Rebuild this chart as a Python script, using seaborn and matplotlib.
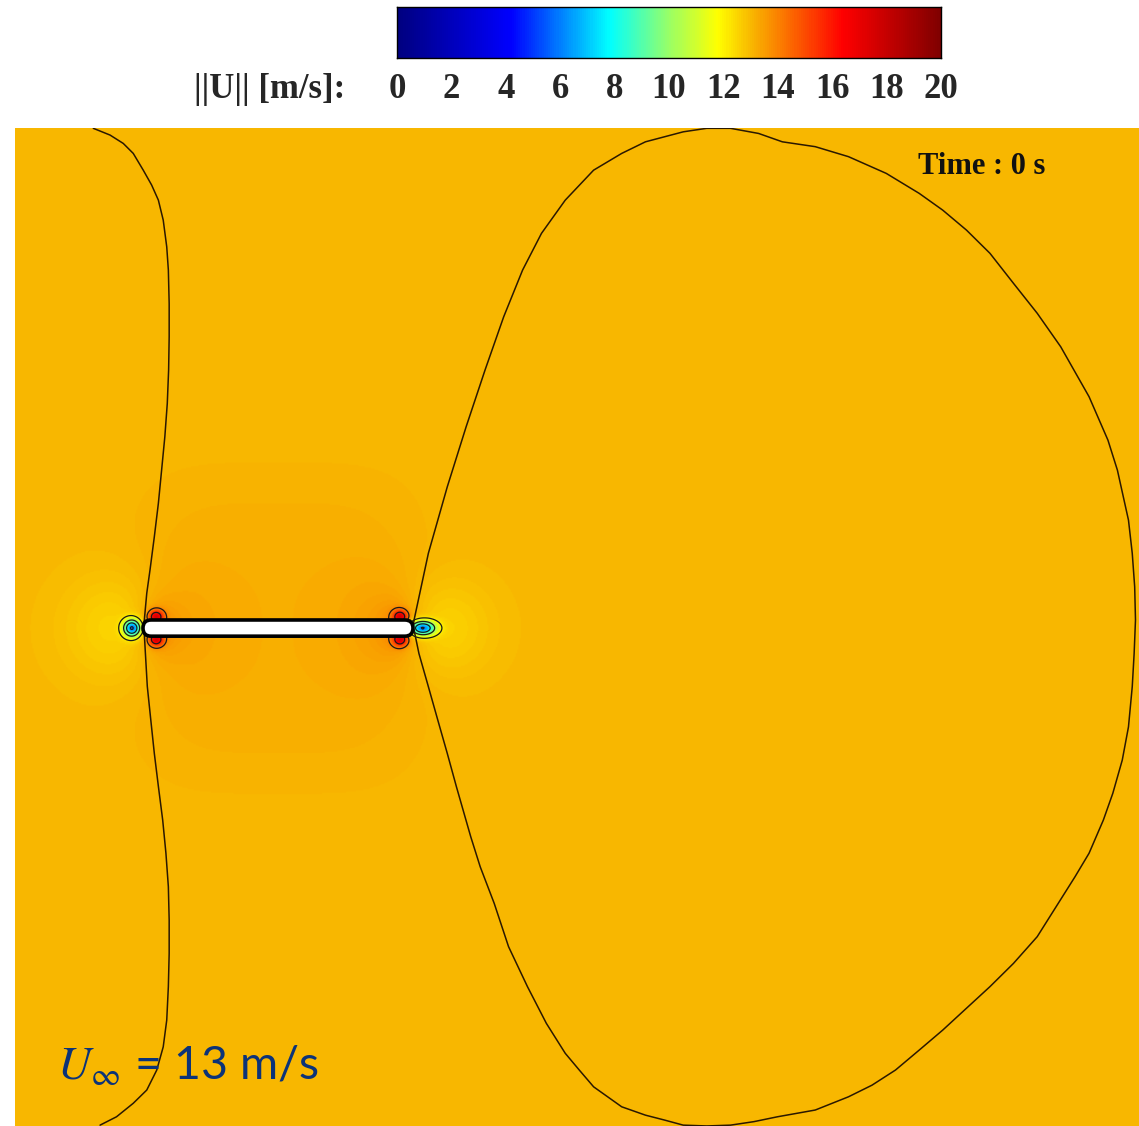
import numpy as np
import matplotlib
matplotlib.use("Agg")
import matplotlib.pyplot as plt
from matplotlib.colors import LinearSegmentedColormap
from matplotlib.patches import FancyBboxPatch
import seaborn as sns

# ---------------------------------------------------------------- data
U_INF = 13.0                      # free-stream speed [m/s]
CBAR_TICKS = [0, 2, 4, 6, 8, 10, 12, 14, 16, 18, 20]
CONTOUR_LEVELS = [6, 8, 10, 12, 14, 16]

# domain in plate-length units (plate spans x = 0 .. 1, y = 0)
X_RANGE = [-0.474, 3.689]
Y_RANGE = [-1.844, 1.852]
PLATE_X = [0.0, 1.0]
PLATE_HALF_THICK = 0.03

# local flow features: centre x, centre y, sigma x, sigma y, amplitude [m/s]
FEAT_CX = [-0.08, 1.10, 0.10, 0.90, 0.06, 0.94, -0.041, 1.035, 0.048, 0.048, 0.952, 0.952]
FEAT_CY = [0.00, 0.00, 0.00, 0.00, 0.00, 0.00, 0.000, 0.000, 0.042, -0.042, 0.042, -0.042]
FEAT_SX = [0.20, 0.18, 0.16, 0.16, 0.07, 0.07, 0.031, 0.046, 0.026, 0.026, 0.026, 0.026]
FEAT_SY = [0.19, 0.17, 0.19, 0.19, 0.10, 0.10, 0.031, 0.026, 0.024, 0.024, 0.024, 0.024]
FEAT_AMP = [-0.55, -0.50, 0.35, 0.35, 0.55, 0.55, -7.0, -7.0, 4.0, 4.0, 4.0, 4.0]

# broad region of slightly faster flow around the plate (super-Gaussian)
PLUME_C = [0.5, 0.0]
PLUME_S = [0.52, 0.56]
PLUME_AMP = 0.20

# free-stream iso-speed lines
LEFT_ISO_X = [-0.184, -0.122, -0.073, -0.036, 0.001, 0.032, 0.057, 0.075, 0.088,
              0.094, 0.097, 0.097, 0.095, 0.090, 0.081, 0.069, 0.057, 0.042,
              0.026, 0.014, 0.005, 0.0, 0.004, 0.009, 0.016, 0.029, 0.042, 0.057,
              0.073, 0.085, 0.094, 0.097, 0.097, 0.094, 0.088, 0.075, 0.051,
              0.014, -0.036, -0.098, -0.159]
LEFT_ISO_Y = [1.851, 1.826, 1.795, 1.758, 1.696, 1.641, 1.585, 1.511, 1.412,
              1.326, 1.202, 1.079, 0.956, 0.832, 0.709, 0.585, 0.462, 0.338,
              0.215, 0.129, 0.030, 0.0, -0.005, -0.094, -0.216, -0.341, -0.464,
              -0.586, -0.711, -0.834, -0.958, -1.081, -1.205, -1.328, -1.452,
              -1.551, -1.637, -1.711, -1.760, -1.810, -1.841]

RIGHT_ISO_X = [1.0, 1.004, 1.057, 1.127, 1.197, 1.267, 1.336, 1.406, 1.476, 1.564,
               1.669, 1.773, 1.861, 2.001, 2.088, 2.176, 2.280, 2.368, 2.490,
               2.613, 2.753, 2.875, 2.962, 3.050, 3.137, 3.224, 3.312, 3.399,
               3.504, 3.574, 3.609, 3.650, 3.664, 3.673, 3.676, 3.671, 3.664,
               3.650, 3.627, 3.592, 3.557, 3.504, 3.452, 3.382, 3.312, 3.224,
               3.137, 3.050, 2.962, 2.875, 2.787, 2.700, 2.613, 2.490, 2.350,
               2.263, 2.176, 2.088, 2.001, 1.931, 1.861, 1.773, 1.669, 1.616,
               1.564, 1.494, 1.424, 1.354, 1.301, 1.249, 1.214, 1.161, 1.127,
               1.092, 1.057, 1.022, 1.004, 1.0]
RIGHT_ISO_Y = [0.0, 0.030, 0.277, 0.523, 0.746, 0.956, 1.153, 1.326, 1.462, 1.585,
               1.696, 1.758, 1.801, 1.838, 1.851, 1.851, 1.832, 1.801, 1.783,
               1.746, 1.684, 1.610, 1.548, 1.474, 1.388, 1.277, 1.166, 1.042,
               0.857, 0.696, 0.585, 0.400, 0.277, 0.153, 0.030, -0.094, -0.217,
               -0.366, -0.489, -0.612, -0.711, -0.834, -0.921, -1.032, -1.143,
               -1.242, -1.328, -1.408, -1.489, -1.563, -1.637, -1.693, -1.736,
               -1.785, -1.810, -1.828, -1.841, -1.844, -1.841, -1.822, -1.804,
               -1.773, -1.699, -1.637, -1.575, -1.464, -1.328, -1.180, -1.020,
               -0.884, -0.773, -0.588, -0.464, -0.341, -0.217, -0.094, -0.007, 0.0]

# ---------------------------------------------------------------- style
sns.set_theme(style="white")
plt.rcParams["mathtext.fontset"] = "stix"

W, H = 1139, 1126
fig = plt.figure(figsize=(W / 100, H / 100), dpi=100)
fig.patch.set_facecolor("white")

speed_cmap = LinearSegmentedColormap.from_list(
    "speed",
    [(0.00, (0.0, 0.0, 0.5)),
     (0.21, (0.0, 0.0, 1.0)),
     (0.39, (0.0, 1.0, 1.0)),
     (0.50, (0.6, 1.0, 0.4)),
     (0.59, (1.0, 1.0, 0.0)),
     (0.65, (0.975, 0.725, 0.0)),
     (0.82, (1.0, 0.0, 0.0)),
     (1.00, (0.5, 0.0, 0.0))])

# ---------------------------------------------------------------- field
nx, ny = 900, 800
xs = np.linspace(X_RANGE[0], X_RANGE[1], nx)
ys = np.linspace(Y_RANGE[0], Y_RANGE[1], ny)
X, Y = np.meshgrid(xs, ys)

Z = np.full_like(X, U_INF)
Z += PLUME_AMP * np.exp(-(((X - PLUME_C[0]) / PLUME_S[0]) ** 4
                          + ((Y - PLUME_C[1]) / PLUME_S[1]) ** 4))
for cx, cy, sx, sy, a in zip(FEAT_CX, FEAT_CY, FEAT_SX, FEAT_SY, FEAT_AMP):
    Z += a * np.exp(-(((X - cx) / sx) ** 2 + ((Y - cy) / sy) ** 2))

ax = fig.add_axes([15 / W, 0.0, (W - 15) / W, (H - 128) / H])
ax.imshow(Z, origin="lower", extent=[*X_RANGE, *Y_RANGE], cmap=speed_cmap,
          vmin=CBAR_TICKS[0], vmax=CBAR_TICKS[-1], interpolation="bilinear",
          aspect="equal")
ax.contour(X, Y, Z, levels=CONTOUR_LEVELS, colors="#1a1a1a", linewidths=0.9)
ax.plot(LEFT_ISO_X, LEFT_ISO_Y, color="#2a1800", lw=1.1)
ax.plot(RIGHT_ISO_X, RIGHT_ISO_Y, color="#2a1800", lw=1.1)

plate = FancyBboxPatch((PLATE_X[0], -PLATE_HALF_THICK),
                       PLATE_X[1] - PLATE_X[0], 2 * PLATE_HALF_THICK,
                       boxstyle=f"round,pad=0,rounding_size={PLATE_HALF_THICK}",
                       facecolor="white", edgecolor="black", lw=2.6, zorder=5)
ax.add_patch(plate)
ax.set_xlim(*X_RANGE)
ax.set_ylim(*Y_RANGE)
ax.set_axis_off()

fig.text(918 / W, 1 - 167 / H, "Time : 0 s", ha="left", va="center", fontsize=22,
         fontweight="bold", family="Liberation Serif", color="#111111")
fig.text(57 / W, 1 - 1080 / H, r"$U_{\infty}$ = 13 m/s", ha="left", va="baseline",
         fontsize=33.5, family="Lato", color="#0c3378")

# ---------------------------------------------------------------- colour bar
cax = fig.add_axes([397 / W, 1 - 58 / H, 544 / W, 51 / H])
n = 256
grad = np.linspace(CBAR_TICKS[0], CBAR_TICKS[-1], n)[None, :]
sns.heatmap(grad, ax=cax, cmap=speed_cmap, vmin=CBAR_TICKS[0], vmax=CBAR_TICKS[-1],
            cbar=False, xticklabels=False, yticklabels=False)
for s in cax.spines.values():
    s.set_visible(True)
    s.set_color("black")
    s.set_linewidth(1.0)
cax.set_xticks([(t - CBAR_TICKS[0]) / (CBAR_TICKS[-1] - CBAR_TICKS[0]) * n for t in CBAR_TICKS])
cax.set_xticklabels([str(t) for t in CBAR_TICKS], fontsize=25, fontweight="bold",
                    family="Liberation Serif")
cax.tick_params(axis="x", length=0, pad=11)
cax.set_yticks([])
fig.text(270 / W, 1 - 90 / H, "||U|| [m/s]:", ha="center", va="center", fontsize=25,
         fontweight="bold", family="Liberation Serif")

fig.savefig("out.png", dpi=100, facecolor="white")
